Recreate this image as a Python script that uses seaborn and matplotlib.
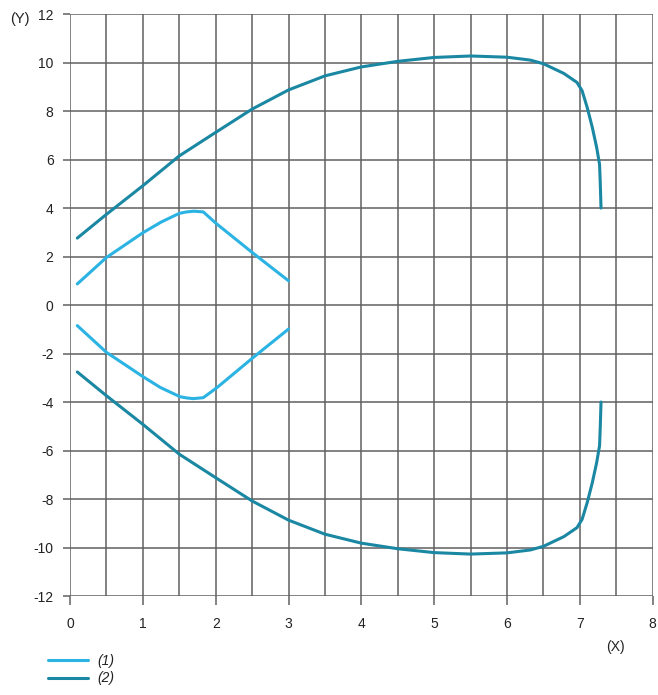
import matplotlib
matplotlib.use("Agg")
import matplotlib.pyplot as plt
import seaborn as sns
import pandas as pd
from matplotlib.ticker import MultipleLocator

# ---- data ----
c1_up_x = [0.1, 0.5, 1.0, 1.25, 1.5, 1.6, 1.7, 1.83, 2.0, 2.5, 3.0]
c1_up_y = [0.87, 1.96, 2.98, 3.42, 3.78, 3.84, 3.87, 3.84, 3.38, 2.17, 1.0]
c1_lo_x = [0.1, 0.5, 1.0, 1.24, 1.51, 1.6, 1.69, 1.83, 2.02, 2.52, 3.0]
c1_lo_y = [-0.85, -1.95, -2.95, -3.4, -3.78, -3.83, -3.86, -3.82, -3.4, -2.15, -0.99]

c2_up_x = [0.1, 0.5, 1.0, 1.5, 2.0, 2.5, 3.0, 3.5, 4.0, 4.5, 5.0, 5.5, 6.0, 6.32, 6.5,
           6.78, 6.96, 7.03, 7.1, 7.17, 7.23, 7.27, 7.28, 7.29]
c2_up_y = [2.76, 3.74, 4.92, 6.15, 7.12, 8.08, 8.87, 9.45, 9.82, 10.05, 10.21, 10.27, 10.22,
           10.1, 9.95, 9.55, 9.18, 8.84, 8.15, 7.33, 6.5, 5.8, 5.0, 4.0]
c2_lo_x = [0.1, 0.5, 1.0, 1.5, 2.0, 2.5, 3.0, 3.5, 4.0, 4.5, 5.0, 5.5, 6.0, 6.32, 6.5,
           6.78, 6.96, 7.03, 7.1, 7.17, 7.23, 7.27, 7.28, 7.29]
c2_lo_y = [-2.76, -3.74, -4.92, -6.15, -7.12, -8.08, -8.87, -9.45, -9.82, -10.05, -10.21,
           -10.27, -10.22, -10.1, -9.95, -9.55, -9.18, -8.84, -8.15, -7.33, -6.5, -5.8, -5.0, -4.0]

series_names = ["(1)", "(2)"]
series_colors = ["#2BB3E3", "#1A87A3"]
x_ticks = [0, 1, 2, 3, 4, 5, 6, 7, 8]
y_ticks = [-12, -10, -8, -6, -4, -2, 0, 2, 4, 6, 8, 10, 12]

segments = [
    ("(1)", "1u", c1_up_x, c1_up_y),
    ("(1)", "1l", c1_lo_x, c1_lo_y),
    ("(2)", "2u", c2_up_x, c2_up_y),
    ("(2)", "2l", c2_lo_x, c2_lo_y),
]
rows = []
for name, seg, xs, ys in segments:
    for xv, yv in zip(xs, ys):
        rows.append({"series": name, "seg": seg, "x": xv, "y": yv})
df = pd.DataFrame(rows)

sns.set_theme(style="white")
plt.rcParams["font.family"] = ["Liberation Sans", "DejaVu Sans"]
plt.rcParams["axes.unicode_minus"] = False

fig = plt.figure(figsize=(6.58, 6.95), dpi=100)
ax = fig.add_axes([0.1064, 0.1424, 0.8856, 0.8374])

grid_c = "#606060"
text_c = "#222222"
ax.set_xlim(0, 8)
ax.set_ylim(-12, 12)
ax.set_xticks(x_ticks)
ax.xaxis.set_minor_locator(MultipleLocator(0.5))
ax.set_yticks(y_ticks)
ax.grid(True, which="both", axis="x", color=grid_c, lw=1.1)
ax.grid(True, which="major", axis="y", color=grid_c, lw=1.1)
ax.set_axisbelow(True)
for s in ax.spines.values():
    s.set_visible(False)
ax.tick_params(axis="x", which="major", length=6.5, width=1.1, color=grid_c,
               pad=8.5, labelsize=10, labelcolor=text_c, bottom=True)
ax.tick_params(axis="x", which="minor", length=0)
ax.tick_params(axis="y", which="major", length=4.8, width=1.1, color=grid_c,
               pad=7, labelsize=10, labelcolor=text_c, left=True)

sns.lineplot(data=df, x="x", y="y", hue="series", units="seg", estimator=None,
             sort=False, palette=dict(zip(series_names, series_colors)),
             hue_order=series_names, lw=2.2, ax=ax)
ax.set_xlabel("")
ax.set_ylabel("")

sns.move_legend(ax, loc="upper left", bbox_to_anchor=(48 / 658, 1 - 654 / 695),
                bbox_transform=fig.transFigure, frameon=False, title=None,
                borderaxespad=0, borderpad=0, handlelength=2.9, handletextpad=0.65,
                labelspacing=0.25, fontsize=10)
leg = ax.get_legend()
for t in leg.get_texts():
    t.set_fontstyle("italic")
    t.set_color(text_c)
for l in leg.get_lines():
    l.set_linewidth(2.2)

fig.text(615 / 658, 1 - 647 / 695, "(X)", ha="center", va="center", fontsize=10, color=text_c)
fig.text(20 / 658, 1 - 19 / 695, "(Y)", ha="center", va="center", fontsize=10.5, color=text_c)

fig.savefig("out.png", dpi=100, facecolor="white")
